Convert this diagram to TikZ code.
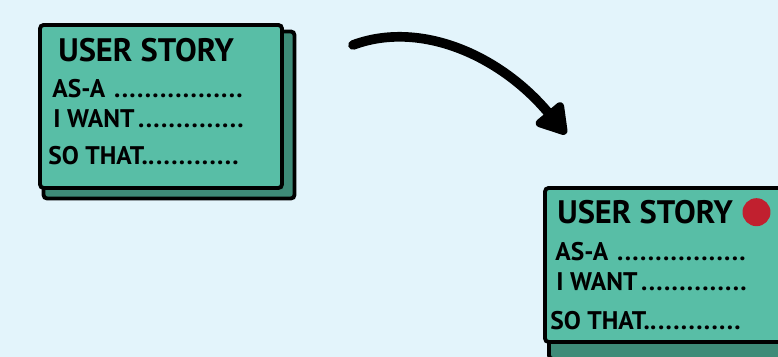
\documentclass[tikz,border=0pt]{standalone}
\usepackage{fontspec}
\setmainfont{PT Sans}
\usetikzlibrary{positioning,arrows.meta}

\definecolor{paper}{HTML}{E3F4FB}
\definecolor{cardgreen}{HTML}{58BEA6}
\definecolor{cardshade}{HTML}{3E8B78}
\definecolor{dotred}{HTML}{C1202F}

% a field line: label followed by dots up to a fixed width
\newcommand{\storyfield}[1]{\hbox to 3.9cm{#1\leaders\hbox to 0.3em{\hss.\hss}\hfill}}

\begin{document}
\begin{tikzpicture}[x=0.02cm, y=-0.02cm,
  card/.style={rectangle, rounded corners=2pt, draw=black, line width=2.2pt, fill=cardgreen, inner sep=0pt, outer sep=0pt},
  shadowcard/.style={card, fill=cardshade},
  title/.style={font=\bfseries\fontsize{18.5}{18.5}\selectfont, inner sep=0pt},
  field/.style={font=\bfseries\fontsize{14.5}{14.5}\selectfont, inner sep=0pt},
  redspot/.style={circle, fill=dotred, minimum size=0.56cm, inner sep=0pt},
  arrow/.style={line width=5.5pt, line cap=round, -{Triangle[length=19pt, width=22pt, round]}}]

  \useasboundingbox (0,0) rectangle (778,357);
  \clip (0,0) rectangle (778,357);
  \fill[paper] (0,0) rectangle (778,357);

  % first card
  \node (shadow1) [shadowcard, minimum width=5.02cm, minimum height=3.34cm] at (169,115) {};
  \node (card1) [card, minimum width=4.84cm, minimum height=3.26cm] at (161,106.5) {};
  \node (title1) [title, below right=0.26cm and 0.36cm of card1.north west] {USER STORY};
  \node (asa1) [field, below right=1.08cm and 0.24cm of card1.north west] {\storyfield{AS-A }};
  \node (want1) [field, below right=1.68cm and 0.26cm of card1.north west] {\storyfield{I WANT}};
  \node (sothat1) [field, below right=2.42cm and 0.16cm of card1.north west] {\storyfield{SO THAT..}};

  % second card
  \node (shadow2) [shadowcard, minimum width=5.0cm, minimum height=3.28cm] at (674,277) {};
  \node (card2) [card, minimum width=4.84cm, minimum height=3.08cm] at (666,265) {};
  \node (title2) [title, below right=0.24cm and 0.24cm of card2.north west] {USER STORY};
  \node (spot) [redspot, right=0.18cm of title2] {};
  \node (asa2) [field, below right=1.08cm and 0.2cm of card2.north west] {\storyfield{AS-A }};
  \node (want2) [field, below right=1.68cm and 0.22cm of card2.north west] {\storyfield{I WANT}};
  \node (sothat2) [field, below right=2.46cm and 0.1cm of card2.north west] {\storyfield{SO THAT..}};

  % moving the story
  \coordinate (from) at (353,45);
  \coordinate (to) at (566,134);
  \draw [arrow] (from) .. controls (420,20) and (500,55) .. (to);
\end{tikzpicture}
\end{document}
